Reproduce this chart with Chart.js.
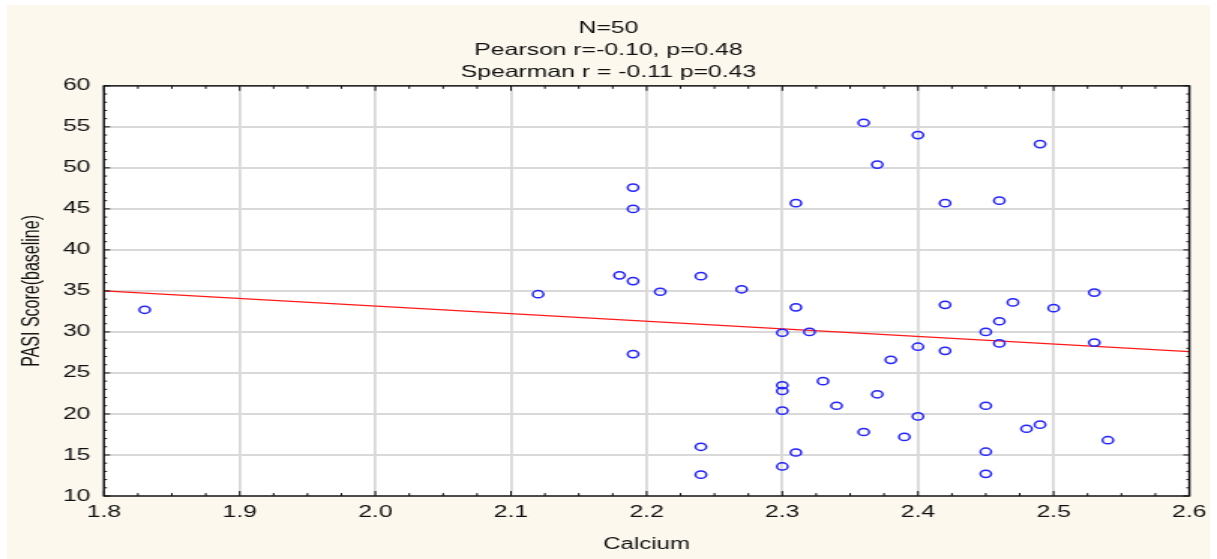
<!DOCTYPE html>
<html>
<head>
<meta charset="utf-8">
<script src="https://cdn.jsdelivr.net/npm/chart.js"></script>
<style>
	body { margin: 0; background: #ffffff; width: 1217px; height: 559px; overflow: hidden; }
	#panel { position: absolute; left: 7px; top: 5px; width: 1203px; height: 554px; background: #fcf8ee; }
	#chart { position: absolute; left: 0; top: 0; transform: scaleX(1.5006); transform-origin: 0 0; }
</style>
</head>
<body>
<div id="panel"></div>
<canvas id="chart" width="811" height="559"></canvas>
<script>
var titleLines = ["N=50", "Pearson r=-0.10, p=0.48", "Spearman r = -0.11 p=0.43"];
var xLabel = "Calcium";
var yLabel = "PASI Score(baseline)";

var calcium = [
	1.83, 2.12, 2.18, 2.19, 2.19, 2.19, 2.19, 2.21, 2.24, 2.24,
	2.24, 2.27, 2.30, 2.30, 2.30, 2.30, 2.30, 2.31, 2.31, 2.31,
	2.32, 2.33, 2.34, 2.36, 2.36, 2.37, 2.37, 2.38, 2.39, 2.40,
	2.40, 2.40, 2.42, 2.42, 2.42, 2.45, 2.45, 2.45, 2.45, 2.46,
	2.46, 2.46, 2.47, 2.48, 2.49, 2.49, 2.50, 2.53, 2.53, 2.54
];
var pasi = [
	32.7, 34.6, 36.9, 47.6, 45.0, 36.2, 27.3, 34.9, 36.8, 16.0,
	12.6, 35.2, 29.9, 23.5, 22.8, 20.4, 13.6, 45.7, 33.0, 15.3,
	30.0, 24.0, 21.0, 55.5, 17.8, 50.4, 22.4, 26.6, 17.2, 54.0,
	28.2, 19.7, 45.7, 33.3, 27.7, 30.0, 21.0, 15.4, 12.7, 46.0,
	31.3, 28.6, 33.6, 18.2, 52.9, 18.7, 32.9, 34.8, 28.7, 16.8
];
var fitX = [1.8, 2.6];
var fitY = [35.0, 27.6];

var color = {
	blue: "#2424ff",
	red: "#ff1a1a",
	grid: "#d9d9d9",
	text: "#111111"
};

var fontFamily = "'Liberation Sans', Arial, sans-serif";

var points = calcium.map(function (c, i) {
	return { x: c, y: pasi[i] };
});
var fit = fitX.map(function (c, i) {
	return { x: c, y: fitY[i] };
});

// white plot area, black frame and small inward ticks
var framePlugin = {
	id: "frame",
	beforeDraw: function (chart) {
		var a = chart.chartArea;
		var ctx = chart.ctx;
		ctx.save();
		ctx.fillStyle = "#ffffff";
		ctx.fillRect(a.left, a.top, a.right - a.left, a.bottom - a.top);
		ctx.restore();
	},
	afterDraw: function (chart) {
		var a = chart.chartArea;
		var ctx = chart.ctx;
		var xs = chart.scales.x;
		var ys = chart.scales.y;
		var i, p, len;
		ctx.save();
		ctx.strokeStyle = "#111111";
		ctx.lineWidth = 1.4;
		ctx.strokeRect(a.left, a.top, a.right - a.left, a.bottom - a.top);
		ctx.lineWidth = 1;
		ctx.beginPath();
		for (i = 0; i <= 32; i++) {
			p = xs.getPixelForValue(xs.min + i * 0.025);
			len = i % 4 === 0 ? 5 : 3;
			ctx.moveTo(p, a.bottom);
			ctx.lineTo(p, a.bottom - len);
			ctx.moveTo(p, a.top);
			ctx.lineTo(p, a.top + len);
		}
		for (i = 0; i <= 50; i++) {
			p = ys.getPixelForValue(ys.min + i);
			len = i % 5 === 0 ? 4 : 2;
			ctx.moveTo(a.left, p);
			ctx.lineTo(a.left + len, p);
			ctx.moveTo(a.right, p);
			ctx.lineTo(a.right - len, p);
		}
		ctx.stroke();
		ctx.restore();
	}
};

var ctx = document.getElementById("chart").getContext("2d");
var chart = new Chart(ctx, {
	type: "scatter",
	data: {
		datasets: [
			{
				type: "line",
				data: fit,
				borderColor: color.red,
				borderWidth: 1.3,
				pointRadius: 0,
				fill: false,
				order: 2
			},
			{
				data: points,
				pointStyle: "circle",
				pointRadius: 3.6,
				borderColor: color.blue,
				borderWidth: 1.5,
				backgroundColor: "rgba(0,0,0,0)",
				order: 1
			}
		]
	},
	options: {
		responsive: false,
		animation: false,
		layout: { padding: { left: 17, right: 17, top: 0, bottom: 0 } },
		plugins: {
			legend: { display: false },
			tooltip: { enabled: false },
			title: {
				display: true,
				text: titleLines,
				color: color.text,
				font: { family: fontFamily, size: 16.5, weight: "normal", lineHeight: 1.32 },
				padding: { top: 18, bottom: 2.5 }
			}
		},
		scales: {
			x: {
				type: "linear",
				min: 1.8,
				max: 2.6,
				afterFit: function (s) { s.height = 63; },
				grid: { color: color.grid, lineWidth: 1.8, drawTicks: false },
				border: { display: false },
				ticks: {
					stepSize: 0.1,
					padding: 7,
					color: color.text,
					font: { family: fontFamily, size: 16.5 },
					callback: function (v) { return Number(v).toFixed(1); }
				},
				title: {
					display: true,
					text: xLabel,
					color: color.text,
					font: { family: fontFamily, size: 16 },
					padding: { top: 0, bottom: 5 }
				}
			},
			y: {
				min: 10,
				max: 60,
				afterFit: function (s) { s.width = 52.3; },
				grid: { color: color.grid, lineWidth: 2, drawTicks: false },
				border: { display: false },
				ticks: {
					stepSize: 5,
					padding: 9,
					color: color.text,
					font: { family: fontFamily, size: 16.5 }
				},
				title: {
					display: true,
					text: yLabel,
					color: color.text,
					font: { family: fontFamily, size: 16 },
					padding: { top: -4.6, bottom: 0 }
				}
			}
		}
	},
	plugins: [framePlugin]
});
</script>
</body>
</html>
